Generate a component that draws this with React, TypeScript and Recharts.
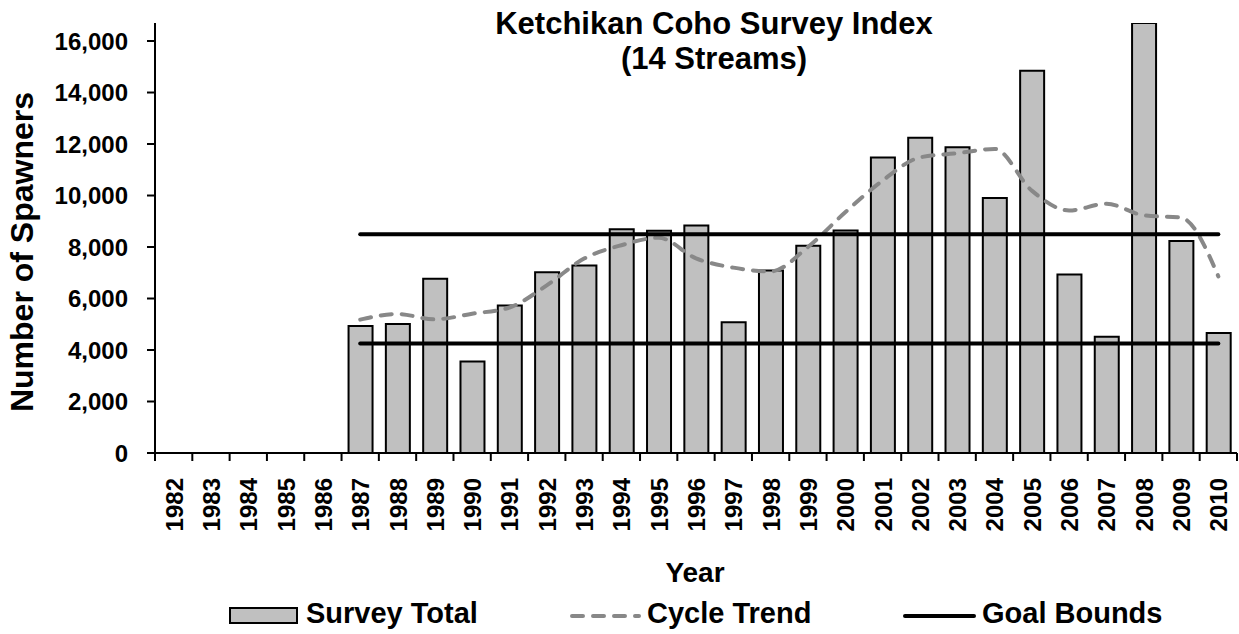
import { Bar, ComposedChart, Line, XAxis, YAxis } from "recharts"

const years = [
  "1982", "1983", "1984", "1985", "1986", "1987", "1988", "1989", "1990", "1991",
  "1992", "1993", "1994", "1995", "1996", "1997", "1998", "1999", "2000", "2001",
  "2002", "2003", "2004", "2005", "2006", "2007", "2008", "2009", "2010",
]

const surveyTotal = [
  null, null, null, null, null, 4930, 5010, 6770, 3550, 5730,
  7020, 7280, 8690, 8630, 8840, 5080, 7090, 8050, 8640, 11480,
  12240, 11870, 9900, 14850, 6930, 4510, 16700, 8230, 4660,
]

const cycleTrend = [
  null, null, null, null, null, 5180, 5400, 5190, 5410, 5650,
  6510, 7550, 8070, 8360, 7560, 7200, 7050, 8000, 9350, 10580,
  11480, 11640, 11810, 10190, 9420, 9680, 9230, 9140, 6860,
]

const goalUpper = 8500
const goalLower = 4250
const goalStart = "1987"

const yTicks = [0, 2000, 4000, 6000, 8000, 10000, 12000, 14000, 16000]

const data = years.map((year, i) => ({
  year,
  total: surveyTotal[i],
  trend: cycleTrend[i],
  upper: year >= goalStart ? goalUpper : null,
  lower: year >= goalStart ? goalLower : null,
}))

const W = 1239
const H = 634
const LEFT = 155
const RIGHT = 2
const TOP = 23
const BOTTOM = 181
const FONT = "'Liberation Sans', Arial, Helvetica, sans-serif"
const STEP = (W - LEFT - RIGHT) / years.length

function YearTick(props: any) {
  const { x, y, payload, index } = props
  const last = index === years.length - 1
  return (
    <g>
      <line x1={x - STEP / 2} x2={x - STEP / 2} y1={y} y2={y + 8} stroke="#000" strokeWidth={2} />
      {last && <line x1={x + STEP / 2} x2={x + STEP / 2} y1={y} y2={y + 8} stroke="#000" strokeWidth={2} />}
      <text
        transform={`translate(${x + 9},${y + 25}) rotate(-90)`}
        textAnchor="end"
        fontFamily={FONT}
        fontWeight="bold"
        fontSize={24}
        fill="#000"
      >
        {payload.value}
      </text>
    </g>
  )
}

export default function App() {
  return (
    <div style={{ position: "absolute", left: 0, top: 0, width: W, height: H, background: "#fff" }}>
      <ComposedChart
        width={W}
        height={H}
        data={data}
        margin={{ top: TOP, right: RIGHT, bottom: BOTTOM - 60, left: 0 }}
        barSize={24}
      >
        <XAxis
          dataKey="year"
          interval={0}
          height={60}
          tickSize={0}
          tickMargin={0}
          tick={<YearTick />}
          axisLine={{ stroke: "#000", strokeWidth: 2 }}
          tickLine={false}
        />
        <YAxis
          width={LEFT}
          domain={[0, 16700]}
          ticks={yTicks}
          allowDataOverflow
          tickSize={8}
          tickMargin={19}
          tickFormatter={(v) => v.toLocaleString("en-US")}
          tick={{ fill: "#000", fontSize: 24, fontWeight: "bold", fontFamily: FONT }}
          axisLine={{ stroke: "#000", strokeWidth: 2 }}
          tickLine={{ stroke: "#000", strokeWidth: 2 }}
        />
        <Bar dataKey="total" fill="#c0c0c0" stroke="#000" strokeWidth={2} isAnimationActive={false} />
        <Line
          dataKey="trend"
          type="monotone"
          stroke="#888888"
          strokeWidth={4}
          strokeDasharray="11 10"
          strokeLinecap="round"
          dot={false}
          isAnimationActive={false}
        />
        <Line dataKey="upper" type="linear" stroke="#000" strokeWidth={4} strokeLinecap="round" dot={false} isAnimationActive={false} />
        <Line dataKey="lower" type="linear" stroke="#000" strokeWidth={4} strokeLinecap="round" dot={false} isAnimationActive={false} />
      </ComposedChart>
      <svg
        width={W}
        height={H}
        style={{ position: "absolute", left: 0, top: 0, pointerEvents: "none" }}
        fontFamily={FONT}
        fontWeight="bold"
        fill="#000"
      >
        <text x={714} y={34} textAnchor="middle" fontSize={31}>Ketchikan Coho Survey Index</text>
        <text x={714} y={69} textAnchor="middle" fontSize={31}>(14 Streams)</text>
        <text transform="translate(33,252) rotate(-90)" textAnchor="middle" fontSize={32}>Number of Spawners</text>
        <text x={695} y={582} textAnchor="middle" fontSize={28}>Year</text>

        <rect x={230} y={608} width={67} height={15} fill="#c0c0c0" stroke="#000" strokeWidth={2} />
        <text x={306} y={623} fontSize={29}>Survey Total</text>
        <line x1={572} x2={639} y1={616} y2={616} stroke="#888888" strokeWidth={4} strokeDasharray="11 10" strokeLinecap="round" />
        <text x={647} y={623} fontSize={29}>Cycle Trend</text>
        <line x1={905} x2={974} y1={616} y2={616} stroke="#000" strokeWidth={4} strokeLinecap="round" />
        <text x={982} y={623} fontSize={29}>Goal Bounds</text>
      </svg>
    </div>
  )
}
